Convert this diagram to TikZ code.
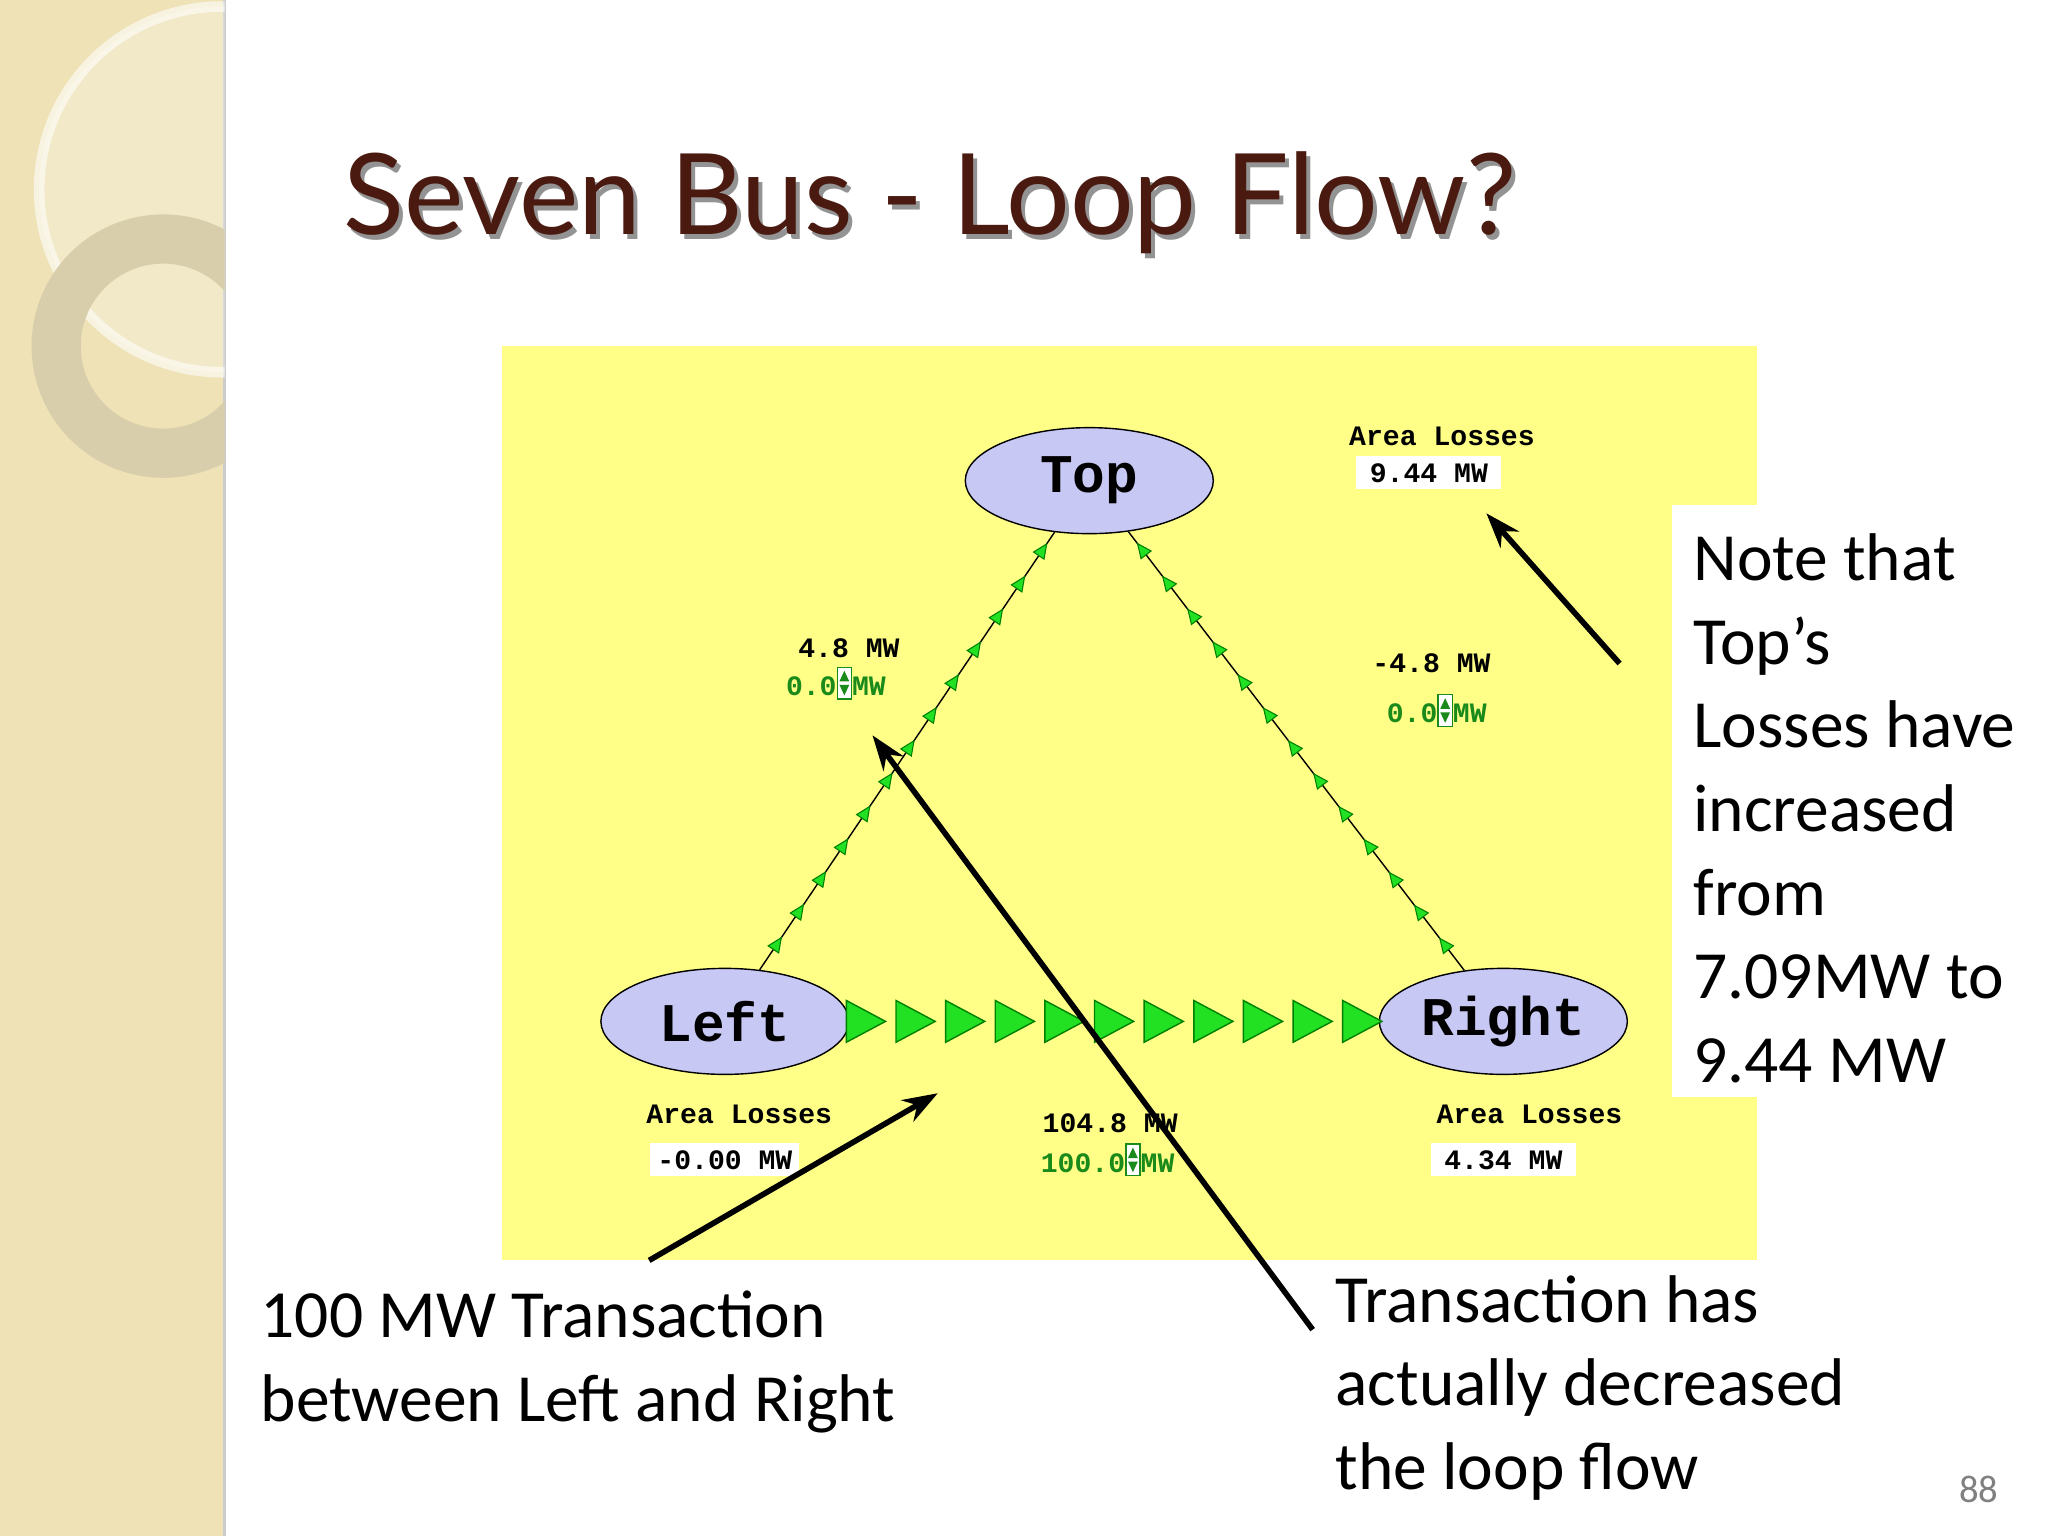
\documentclass[tikz,border=0pt]{standalone}
\usepackage{fontspec}
\setmainfont{Carlito}
\newfontfamily\monob{Liberation Mono}
\newfontfamily\titlef{Lato}
\usetikzlibrary{decorations.markings,arrows.meta,shapes.geometric}
\definecolor{beige}{HTML}{EEE2B6}
\definecolor{yel}{HTML}{FFFF88}
\definecolor{lav}{HTML}{C8C8F4}
\definecolor{brn}{HTML}{4A1A10}
\definecolor{dgreen}{HTML}{1A8A1A}
\definecolor{agreen}{HTML}{22E022}
\tikzset{
 bus/.style={ellipse,draw,fill=lav,inner sep=0pt,minimum width=2.48cm,minimum height=1.06cm,font=\monob\bfseries\fontsize{15.5}{16}\selectfont},
 lbl/.style={font=\monob\bfseries\fontsize{8}{9}\selectfont,inner sep=1pt},
 glbl/.style={lbl,text=dgreen},
 wbox/.style={lbl,fill=white,inner sep=2pt},
 big/.style={font=\fontsize{19.2}{23.8}\selectfont,align=left,inner sep=0pt,anchor=north west},
 callout/.style={line width=1.6pt,-{Stealth[length=10pt,width=7pt]}},
 tl/.style={postaction={decorate},decoration={markings,mark=between positions 0.06 and 0.96 step 0.075 with {\draw[green!50!black,fill=agreen,line width=0.3pt] (2pt,0)--(-2pt,1.8pt)--(-2pt,-1.8pt)--cycle;}}},
 ga/.style={fill=agreen,draw=green!50!black,thin},
}
\newcommand\spin{\tikz[baseline=0pt]{\draw[dgreen,fill=white,line width=0.4pt] (0,-1pt) rectangle (4pt,8pt);\fill[dgreen](0.6pt,4pt)--(3.4pt,4pt)--(2pt,7pt)--cycle;\fill[dgreen](0.6pt,3pt)--(3.4pt,3pt)--(2pt,0pt)--cycle;}}
\begin{document}
\begin{tikzpicture}[x=0.13061mm,y=-0.13061mm]
\useasboundingbox (0,0) rectangle (1568,1176);
\fill[white] (0,0) rectangle (1568,1176);
\fill[beige] (0,0) rectangle (172,1176);
\draw[gray!40,line width=0.8pt] (172,0)--(172,1176);
\begin{scope}
\clip (0,0) rectangle (172,1176);
\draw[white,opacity=0.6,line width=3pt] (170,145) circle (140);
\fill[white,opacity=0.25] (170,145) circle (140);
\draw[beige!80!gray,line width=14pt] (125,265) circle (82);
\end{scope}
\node[font=\titlef\fontsize{32}{36}\selectfont,text=black!70,opacity=0.6] at (715,159) {Seven Bus - Loop Flow?};
\node[font=\titlef\fontsize{32}{36}\selectfont,text=brn] (title) at (712,155) {Seven Bus - Loop Flow?};
\fill[yel] (384,265) rectangle (1345,965);
\node[bus] (top) at (834,368) {Top};
\node[bus] (left) at (555,782) {Left};
\node[bus] (right) at (1151,782) {Right};
\draw[tl] (left) -- (top);
\draw[tl] (right) -- (top);
\foreach \x in {648,686,724,762,800,838,876,914,952,990,1028} {
  \draw[ga] (\x,766)--(\x+30,782)--(\x,798)--cycle;
}
\node[lbl] (l1) at (650,496) {4.8 MW};
\node[glbl] (l2) at (640,523) {0.0\spin MW};
\node[lbl] (r1) at (1096,508) {-4.8 MW};
\node[glbl] (r2) at (1100,544) {0.0\spin MW};
\node[lbl] (b1) at (850,860) {104.8 MW};
\node[glbl] (b2) at (848,888) {100.0\spin MW};
\node[lbl] (ta) at (1104,334) {Area Losses};
\node[wbox,minimum width=1.45cm] (tv) at (1094,362) {9.44 MW};
\node[lbl] (la) at (566,853) {Area Losses};
\node[wbox,minimum width=1.45cm] (lv) at (555,888) {-0.00 MW};
\node[lbl] (ra) at (1171,853) {Area Losses};
\node[wbox,minimum width=1.45cm] (rv) at (1151,888) {4.34 MW};
\fill[white] (1280,387) rectangle (1568,840);
\node[big] (note) at (1296,408) {Note that\\Top’s\\Losses have\\increased\\from\\7.09MW to\\9.44 MW};
\coordinate (c1s) at (1240,508); \coordinate (c1e) at (1138,393);
\draw[callout] (c1s)--(c1e);
\coordinate (c2s) at (1005,1018); \coordinate (c2e) at (668,563);
\draw[callout] (c2s)--(c2e);
\coordinate (c3s) at (497,965); \coordinate (c3e) at (718,837);
\draw[callout] (c3s)--(c3e);
\node[big] (t1) at (199,988) {100 MW Transaction\\between Left and Right};
\node[big] (t2) at (1022,976) {Transaction has\\actually decreased\\the loop flow};
\node[text=gray,font=\fontsize{11}{12}\selectfont] (pg) at (1515,1140) {88};
\end{tikzpicture}
\end{document}
